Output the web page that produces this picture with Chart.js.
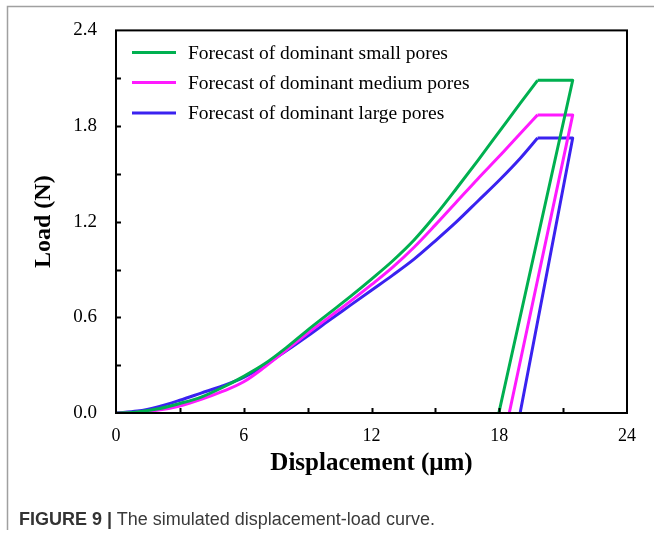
<!DOCTYPE html>
<html>
<head>
<meta charset="utf-8">
<script src="https://cdn.jsdelivr.net/npm/chart.js@4.4.1/dist/chart.umd.min.js"></script>
<style>
    html, body { margin: 0; padding: 0; background: #fff; }
    #wrap { position: relative; width: 654px; height: 544px; }
    #caption {
        position: absolute; left: 19px; top: 509px;
        font-family: "Liberation Sans", Arial, sans-serif; font-size: 18px; color: #3a3a3a;
        white-space: nowrap;
    }
    #caption b { color: #333; }
</style>
</head>
<body>
<div id="wrap">
    <canvas id="chart" width="654" height="544"></canvas>
    <div id="caption"><b>FIGURE 9 |</b> The simulated displacement-load curve.</div>
</div>
<script>
// loading branch, displacement in um
const loadX = [0, 1, 2, 3, 4, 5, 6, 7, 8, 9, 10, 11, 12, 13, 14, 15, 16, 17, 18, 19, 19.8]
const smallLoad = [0, 0.007, 0.027, 0.06, 0.10, 0.16, 0.23, 0.31, 0.41, 0.52, 0.625, 0.73, 0.84, 0.955, 1.085, 1.24, 1.41, 1.585, 1.765, 1.945, 2.087]
const mediumLoad = [0, 0.004, 0.018, 0.044, 0.085, 0.135, 0.196, 0.29, 0.395, 0.50, 0.60, 0.70, 0.805, 0.915, 1.04, 1.18, 1.325, 1.47, 1.61, 1.755, 1.87]
const largeLoad = [0, 0.012, 0.04, 0.08, 0.125, 0.17, 0.224, 0.30, 0.39, 0.483, 0.58, 0.675, 0.77, 0.865, 0.965, 1.08, 1.20, 1.33, 1.46, 1.60, 1.725]

// end of holding plateau, and residual displacement after unloading
const holdEndX = [21.45, 21.45, 21.45]
const residualX = [17.98, 18.47, 18.98]

const labels = [
    'Forecast of dominant small pores',
    'Forecast of dominant medium pores',
    'Forecast of dominant large pores'
]
const colors = ['#00b050', '#ff1aff', '#3a22f0']

const xTicks = [0, 6, 12, 18, 24]
const yTicks = [0, 0.6, 1.2, 1.8, 2.4]

const serif = '"Liberation Serif", "Times New Roman", serif'

const series = [smallLoad, mediumLoad, largeLoad]

// loading curves (smooth)
const loadingSets = series.map((loads, i) => ({
    label: labels[i],
    data: loadX.map((x, k) => ({x: x, y: loads[k]})),
    borderColor: colors[i],
    borderWidth: 3,
    pointRadius: 0,
    showLine: true,
    cubicInterpolationMode: 'monotone'
}))

// hold + unload (straight segments)
const unloadSets = series.map((loads, i) => {
    const peak = loads[loads.length - 1]
    return {
        label: labels[i] + ' unload',
        data: [
            {x: loadX[loadX.length - 1], y: peak},
            {x: holdEndX[i], y: peak},
            {x: residualX[i], y: 0}
        ],
        borderColor: colors[i],
        borderWidth: 3,
        pointRadius: 0,
        showLine: true,
        tension: 0,
        borderJoinStyle: 'round'
    }
})

const framePlugin = {
    id: 'frame',
    beforeDraw(chart) {
        const ctx = chart.ctx
        ctx.save()
        ctx.strokeStyle = '#a0a0a0'
        ctx.lineWidth = 1.5
        ctx.beginPath()
        ctx.moveTo(7.5, 530)
        ctx.lineTo(7.5, 6.5)
        ctx.lineTo(654, 6.5)
        ctx.stroke()
        ctx.restore()
    },
    afterDatasetsDraw(chart) {
        const ctx = chart.ctx
        const a = chart.chartArea
        const xs = chart.scales.x
        const ys = chart.scales.y
        ctx.save()
        ctx.strokeStyle = '#000'
        ctx.lineWidth = 2
        ctx.strokeRect(a.left, a.top, a.right - a.left, a.bottom - a.top)
        // inward ticks
        ctx.beginPath()
        for (let v = 3; v < 24; v += 3) {
            const px = Math.round(xs.getPixelForValue(v)) + 0.5
            ctx.moveTo(px, a.bottom)
            ctx.lineTo(px, a.bottom - 5)
        }
        for (let k = 1; k < 8; k++) {
            const py = Math.round(ys.getPixelForValue(k * 0.3)) + 0.5
            ctx.moveTo(a.left, py)
            ctx.lineTo(a.left + 5, py)
        }
        ctx.stroke()
        // legend
        ctx.font = '19.5px ' + serif
        ctx.textBaseline = 'middle'
        ctx.fillStyle = '#000'
        const rows = [52.5, 82.5, 113]
        loadingSets.forEach((ds, i) => {
            ctx.strokeStyle = ds.borderColor
            ctx.lineWidth = 3
            ctx.beginPath()
            ctx.moveTo(132, rows[i])
            ctx.lineTo(176, rows[i])
            ctx.stroke()
            ctx.fillText(ds.label, 188, rows[i] + 1)
        })
        ctx.restore()
    }
}

new Chart(document.getElementById('chart'), {
    type: 'scatter',
    data: {datasets: loadingSets.concat(unloadSets)},
    options: {
        responsive: false,
        animation: false,
        devicePixelRatio: 1,
        layout: {padding: {left: 0, top: 30, right: 27, bottom: 61}},
        plugins: {legend: {display: false}, tooltip: {enabled: false}},
        scales: {
            x: {
                type: 'linear', min: 0, max: 24,
                afterBuildTicks: s => { s.ticks = xTicks.map(v => ({value: v})) },
                afterFit: s => { s.height = 70 },
                grid: {display: false, drawTicks: false},
                border: {display: false},
                ticks: {color: '#000', padding: 12, font: {family: serif, size: 18}, maxRotation: 0},
                title: {
                    display: true, text: 'Displacement (μm)', color: '#000',
                    font: {family: serif, size: 25, weight: 'bold'}, padding: {bottom: 4}
                }
            },
            y: {
                type: 'linear', min: 0, max: 2.4,
                afterBuildTicks: s => { s.ticks = yTicks.map(v => ({value: v})) },
                afterFit: s => { s.width = 116 },
                grid: {display: false, drawTicks: false},
                border: {display: false},
                ticks: {color: '#000', padding: 19, font: {family: serif, size: 19}, callback: v => v.toFixed(1)},
                title: {
                    display: true, text: 'Load (N)', color: '#000',
                    font: {family: serif, size: 24, weight: 'bold'}, padding: {top: 29}
                }
            }
        }
    },
    plugins: [framePlugin]
})
</script>
</body>
</html>
